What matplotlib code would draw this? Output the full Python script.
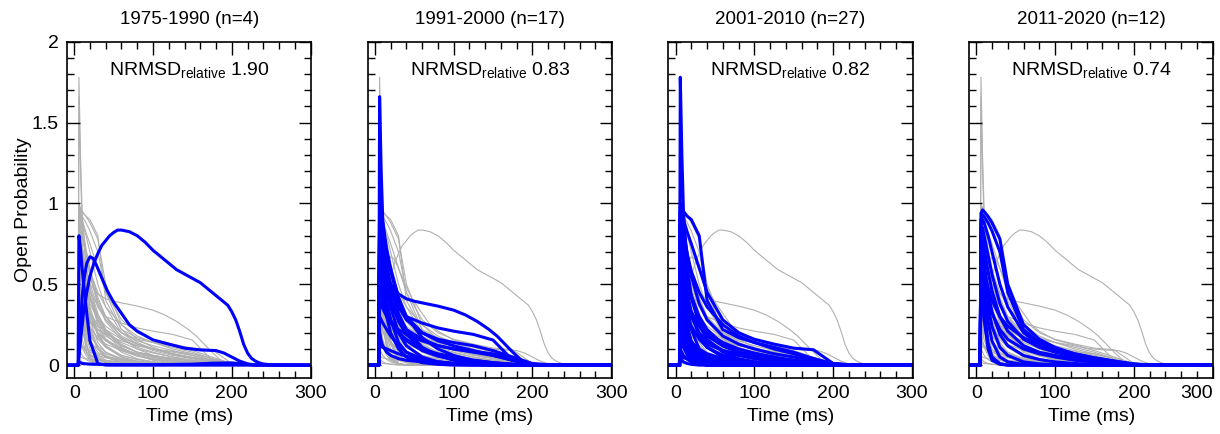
import numpy as np
import matplotlib.pyplot as plt
from matplotlib.ticker import MultipleLocator

plt.rcParams['font.family'] = ['Liberation Sans', 'DejaVu Sans']
plt.rcParams['mathtext.fontset'] = 'custom'
plt.rcParams['mathtext.rm'] = 'Liberation Sans'

# time grid (ms) shared by most traces
t = [-10, 5, 6, 8, 10, 15, 20, 30, 40, 60, 80, 100, 125, 150, 175, 200, 225, 250, 320]

titles = ['1975-1990 (n=4)', '1991-2000 (n=17)', '2001-2010 (n=27)', '2011-2020 (n=12)']
nrmsd = ['1.90', '0.83', '0.82', '0.74']
yticks = [0, 0.5, 1, 1.5, 2]
ytick_labels = ['0', '0.5', '1', '1.5', '2']
xticks = [0, 100, 200, 300]

# the three slow traces are read on their own, finer time grids
t_slow = [-10, 5, 8, 12, 16, 20, 25, 30, 35, 40, 45, 50, 55, 60, 70, 80, 90, 100, 115, 130,
          145, 160, 175, 185, 195, 200, 205, 210, 215, 220, 225, 230, 235, 240, 250, 320]
po_slow = [0, 0, 0.15, 0.33, 0.45, 0.55, 0.63, 0.69, 0.74, 0.77, 0.80, 0.82, 0.835, 0.835, 0.825, 0.80,
           0.76, 0.71, 0.65, 0.59, 0.55, 0.51, 0.45, 0.41, 0.37, 0.33, 0.28, 0.21, 0.13, 0.075, 0.042,
           0.025, 0.014, 0.007, 0.002, 0]

t_hump = [-10, 5, 7, 10, 13, 16, 20, 24, 28, 35, 42, 50, 60, 70, 80, 100, 120, 140, 160, 180,
          190, 200, 210, 220, 230, 320]
po_hump = [0, 0, 0.15, 0.42, 0.55, 0.63, 0.67, 0.66, 0.62, 0.54, 0.46, 0.39, 0.32, 0.25, 0.21, 0.156,
           0.13, 0.105, 0.094, 0.09, 0.075, 0.05, 0.025, 0.008, 0.001, 0]

t_plat = [-10, 5, 6, 8, 10, 15, 20, 30, 40, 50, 60, 80, 100, 115, 130, 145, 155, 165, 175, 185, 195, 320]
po_plat = [0, 0, 0.90, 0.80, 0.70, 0.57, 0.50, 0.44, 0.41, 0.395, 0.385, 0.365, 0.34, 0.31, 0.27, 0.22,
           0.18, 0.13, 0.08, 0.035, 0.005, 0]

era1 = [
    (t_slow, po_slow),
    (t, [0, 0, 0.80, 0.72, 0.60, 0.36, 0.15, 0.01, 0, 0, 0, 0, 0, 0, 0, 0, 0, 0, 0]),
    (t_hump, po_hump),
    (t, [0, 0, 0.02, 0.015, 0.01, 0.008, 0.006, 0.005, 0.004, 0.003, 0.003, 0.003, 0.004, 0.006, 0.012, 0.014, 0.002, 0, 0]),
]

era2 = [(t, v) for v in [
    [0, 0, 1.66, 1.20, 0.90, 0.62, 0.48, 0.32, 0.22, 0.11, 0.06, 0.03, 0.015, 0.007, 0.003, 0.001, 0, 0, 0],
    [0, 0, 1.00, 0.95, 0.88, 0.72, 0.60, 0.42, 0.30, 0.17, 0.10, 0.06, 0.03, 0.015, 0.006, 0.002, 0, 0, 0],
    [0, 0, 0.95, 0.90, 0.84, 0.70, 0.58, 0.40, 0.30, 0.20, 0.15, 0.12, 0.09, 0.06, 0.03, 0.005, 0, 0, 0],
    [0, 0, 0.92, 0.85, 0.75, 0.55, 0.42, 0.27, 0.19, 0.10, 0.06, 0.04, 0.02, 0.01, 0.004, 0.001, 0, 0, 0],
    [0, 0, 0.88, 0.80, 0.70, 0.50, 0.36, 0.20, 0.12, 0.05, 0.02, 0.01, 0.005, 0.002, 0, 0, 0, 0, 0],
    [0, 0, 0.85, 0.72, 0.60, 0.40, 0.28, 0.14, 0.08, 0.03, 0.01, 0.005, 0, 0, 0, 0, 0, 0, 0],
    [0, 0, 0.80, 0.75, 0.70, 0.60, 0.50, 0.36, 0.28, 0.20, 0.16, 0.14, 0.12, 0.09, 0.05, 0.01, 0, 0, 0],
    [0, 0, 0.78, 0.70, 0.62, 0.48, 0.38, 0.28, 0.22, 0.16, 0.12, 0.10, 0.08, 0.06, 0.03, 0.004, 0, 0, 0],
    [0, 0, 0.70, 0.60, 0.50, 0.36, 0.28, 0.20, 0.16, 0.10, 0.07, 0.05, 0.03, 0.015, 0.005, 0, 0, 0, 0],
    [0, 0, 0.65, 0.55, 0.45, 0.30, 0.20, 0.10, 0.05, 0.015, 0.005, 0, 0, 0, 0, 0, 0, 0, 0],
    [0, 0, 0.60, 0.58, 0.55, 0.50, 0.45, 0.37, 0.30, 0.26, 0.23, 0.21, 0.19, 0.155, 0.03, 0, 0, 0, 0],
    [0, 0, 0.50, 0.45, 0.40, 0.32, 0.27, 0.20, 0.15, 0.09, 0.055, 0.035, 0.02, 0.01, 0.004, 0, 0, 0, 0],
    [0, 0, 0.40, 0.38, 0.35, 0.30, 0.26, 0.22, 0.19, 0.15, 0.12, 0.10, 0.085, 0.07, 0.04, 0.005, 0, 0, 0],
    [0, 0, 0.30, 0.28, 0.26, 0.22, 0.18, 0.12, 0.08, 0.04, 0.02, 0.01, 0.005, 0, 0, 0, 0, 0, 0],
    [0, 0, 0.12, 0.115, 0.11, 0.10, 0.09, 0.07, 0.055, 0.035, 0.02, 0.01, 0.005, 0.002, 0, 0, 0, 0, 0],
    [0, 0, 0.20, 0.15, 0.12, 0.08, 0.06, 0.04, 0.03, 0.02, 0.012, 0.008, 0.005, 0.002, 0, 0, 0, 0, 0],
]] + [(t_plat, po_plat)]

era3 = [(t, v) for v in [
    [0, 0, 1.78, 1.30, 0.95, 0.60, 0.42, 0.25, 0.16, 0.08, 0.04, 0.02, 0.01, 0.005, 0.002, 0, 0, 0, 0],
    [0, 0, 1.00, 0.97, 0.95, 0.92, 0.90, 0.80, 0.40, 0.22, 0.17, 0.14, 0.11, 0.08, 0.04, 0.005, 0, 0, 0],
    [0, 0, 0.95, 0.93, 0.90, 0.82, 0.75, 0.60, 0.45, 0.28, 0.20, 0.16, 0.13, 0.105, 0.095, 0.01, 0, 0, 0],
    [0, 0, 0.98, 0.92, 0.85, 0.68, 0.55, 0.38, 0.28, 0.18, 0.13, 0.10, 0.07, 0.05, 0.03, 0.008, 0, 0, 0],
    [0, 0, 0.95, 0.85, 0.75, 0.55, 0.42, 0.28, 0.20, 0.12, 0.08, 0.06, 0.04, 0.025, 0.012, 0.003, 0, 0, 0],
    [0, 0, 0.90, 0.78, 0.66, 0.45, 0.32, 0.18, 0.11, 0.05, 0.025, 0.012, 0.005, 0.002, 0, 0, 0, 0, 0],
    [0, 0, 0.88, 0.72, 0.58, 0.35, 0.22, 0.10, 0.05, 0.015, 0.005, 0, 0, 0, 0, 0, 0, 0, 0],
    [0, 0, 0.85, 0.65, 0.48, 0.25, 0.13, 0.04, 0.015, 0, 0, 0, 0, 0, 0, 0, 0, 0, 0],
    [0, 0, 0.80, 0.55, 0.38, 0.15, 0.06, 0.01, 0, 0, 0, 0, 0, 0, 0, 0, 0, 0, 0],
    [0, 0, 0.75, 0.70, 0.64, 0.52, 0.43, 0.30, 0.22, 0.13, 0.08, 0.05, 0.03, 0.015, 0.006, 0.001, 0, 0, 0],
    [0, 0, 0.70, 0.60, 0.52, 0.38, 0.30, 0.20, 0.15, 0.09, 0.06, 0.04, 0.025, 0.012, 0.005, 0, 0, 0, 0],
    [0, 0, 0.68, 0.50, 0.36, 0.18, 0.10, 0.04, 0.02, 0.005, 0, 0, 0, 0, 0, 0, 0, 0, 0],
    [0, 0, 0.62, 0.55, 0.50, 0.40, 0.33, 0.24, 0.18, 0.12, 0.08, 0.06, 0.04, 0.025, 0.01, 0.002, 0, 0, 0],
    [0, 0, 0.58, 0.45, 0.35, 0.22, 0.15, 0.08, 0.05, 0.02, 0.01, 0.005, 0, 0, 0, 0, 0, 0, 0],
    [0, 0, 0.55, 0.50, 0.46, 0.38, 0.32, 0.25, 0.20, 0.14, 0.10, 0.075, 0.05, 0.03, 0.015, 0.003, 0, 0, 0],
    [0, 0, 0.50, 0.40, 0.32, 0.20, 0.13, 0.06, 0.03, 0.01, 0, 0, 0, 0, 0, 0, 0, 0, 0],
    [0, 0, 0.45, 0.42, 0.38, 0.30, 0.24, 0.16, 0.11, 0.06, 0.035, 0.02, 0.01, 0.005, 0, 0, 0, 0, 0],
    [0, 0, 0.40, 0.30, 0.22, 0.12, 0.07, 0.03, 0.015, 0.005, 0, 0, 0, 0, 0, 0, 0, 0, 0],
    [0, 0, 0.35, 0.33, 0.31, 0.27, 0.23, 0.17, 0.13, 0.09, 0.07, 0.055, 0.04, 0.03, 0.015, 0.002, 0, 0, 0],
    [0, 0, 0.30, 0.22, 0.16, 0.08, 0.04, 0.01, 0, 0, 0, 0, 0, 0, 0, 0, 0, 0, 0],
    [0, 0, 0.25, 0.23, 0.21, 0.17, 0.14, 0.10, 0.07, 0.04, 0.025, 0.015, 0.008, 0.004, 0, 0, 0, 0, 0],
    [0, 0, 0.20, 0.15, 0.11, 0.06, 0.03, 0.01, 0, 0, 0, 0, 0, 0, 0, 0, 0, 0, 0],
    [0, 0, 0.15, 0.13, 0.12, 0.10, 0.08, 0.06, 0.045, 0.03, 0.02, 0.012, 0.006, 0.003, 0, 0, 0, 0, 0],
    [0, 0, 0.10, 0.08, 0.06, 0.035, 0.02, 0.008, 0.003, 0, 0, 0, 0, 0, 0, 0, 0, 0, 0],
    [0, 0, 0.06, 0.05, 0.045, 0.04, 0.035, 0.03, 0.025, 0.02, 0.015, 0.01, 0.006, 0.003, 0, 0, 0, 0, 0],
    [0, 0, 0.04, 0.03, 0.02, 0.01, 0.005, 0, 0, 0, 0, 0, 0, 0, 0, 0, 0, 0, 0],
    [0, 0, 0.90, 0.85, 0.80, 0.68, 0.58, 0.45, 0.36, 0.25, 0.18, 0.14, 0.10, 0.07, 0.04, 0.01, 0, 0, 0],
]]

era4 = [(t, v) for v in [
    [0, 0, 0.94, 0.96, 0.95, 0.92, 0.88, 0.78, 0.50, 0.25, 0.16, 0.11, 0.07, 0.045, 0.025, 0.008, 0, 0, 0],
    [0, 0, 0.90, 0.93, 0.92, 0.88, 0.83, 0.70, 0.45, 0.22, 0.14, 0.10, 0.065, 0.04, 0.02, 0.005, 0, 0, 0],
    [0, 0, 0.88, 0.90, 0.88, 0.80, 0.70, 0.50, 0.36, 0.20, 0.13, 0.09, 0.06, 0.04, 0.02, 0.004, 0, 0, 0],
    [0, 0, 0.85, 0.85, 0.80, 0.68, 0.56, 0.38, 0.27, 0.16, 0.11, 0.08, 0.05, 0.03, 0.015, 0.003, 0, 0, 0],
    [0, 0, 0.82, 0.78, 0.72, 0.58, 0.46, 0.30, 0.21, 0.12, 0.08, 0.06, 0.04, 0.025, 0.012, 0.002, 0, 0, 0],
    [0, 0, 0.80, 0.72, 0.63, 0.45, 0.33, 0.19, 0.12, 0.06, 0.035, 0.02, 0.01, 0.004, 0, 0, 0, 0, 0],
    [0, 0, 0.75, 0.65, 0.55, 0.36, 0.24, 0.11, 0.06, 0.02, 0.008, 0.003, 0, 0, 0, 0, 0, 0, 0],
    [0, 0, 0.72, 0.60, 0.48, 0.27, 0.15, 0.05, 0.02, 0.005, 0, 0, 0, 0, 0, 0, 0, 0, 0],
    [0, 0, 0.70, 0.50, 0.35, 0.14, 0.05, 0.01, 0, 0, 0, 0, 0, 0, 0, 0, 0, 0, 0],
    [0, 0, 0.65, 0.62, 0.58, 0.48, 0.40, 0.30, 0.24, 0.17, 0.13, 0.10, 0.07, 0.045, 0.025, 0.005, 0, 0, 0],
    [0, 0, 0.60, 0.55, 0.50, 0.40, 0.32, 0.22, 0.16, 0.10, 0.07, 0.05, 0.03, 0.018, 0.008, 0.001, 0, 0, 0],
    [0, 0, 0.55, 0.40, 0.28, 0.10, 0.03, 0.005, 0, 0, 0, 0, 0, 0, 0, 0, 0, 0, 0],
]]

eras = [era1, era2, era3, era4]
all_curves = era1 + era2 + era3 + era4

fig, axes = plt.subplots(1, 4, figsize=(12.2, 4.34), dpi=100)
fig.subplots_adjust(left=0.055, right=0.9946, bottom=0.13, top=0.904, wspace=0.231)

for i, ax in enumerate(axes):
    # every model in grey, this era's models in blue on top
    for tt, c in all_curves:
        ax.plot(tt, c, color='#b0b0b0', lw=0.8, zorder=1)
    for tt, c in eras[i]:
        ax.plot(tt, c, color='#0000ff', lw=2.2, zorder=2)

    ax.set_xlim(-9, 301)
    ax.set_ylim(-0.077, 2)
    ax.set_xticks(xticks)
    ax.xaxis.set_minor_locator(MultipleLocator(20))
    ax.set_yticks(yticks)
    ax.yaxis.set_minor_locator(MultipleLocator(0.1))
    ax.tick_params(which='both', direction='in', top=True, right=True, labelsize=14, width=1)
    ax.tick_params(which='major', length=9)
    ax.tick_params(which='minor', length=5)
    ax.tick_params(axis='x', pad=5)
    ax.tick_params(axis='y', pad=6)
    if i == 0:
        ax.set_yticklabels(ytick_labels)
        ax.set_ylabel('Open Probability', fontsize=14, labelpad=0)
    else:
        ax.set_yticklabels([])
    for s in ax.spines.values():
        s.set_linewidth(1.2)
    ax.set_xlabel('Time (ms)', fontsize=14, labelpad=5)
    ax.set_title(titles[i], fontsize=13.5, pad=13)
    ax.text(0.5, 0.913, r'NRMSD$_{\mathrm{relative}}$ ' + nrmsd[i], transform=ax.transAxes,
            ha='center', va='center', fontsize=14)

# last tick label of the right panel is kept inside the figure
axes[-1].get_xticklabels()[-1].set_ha('right')

fig.savefig('out.png', dpi=100)
